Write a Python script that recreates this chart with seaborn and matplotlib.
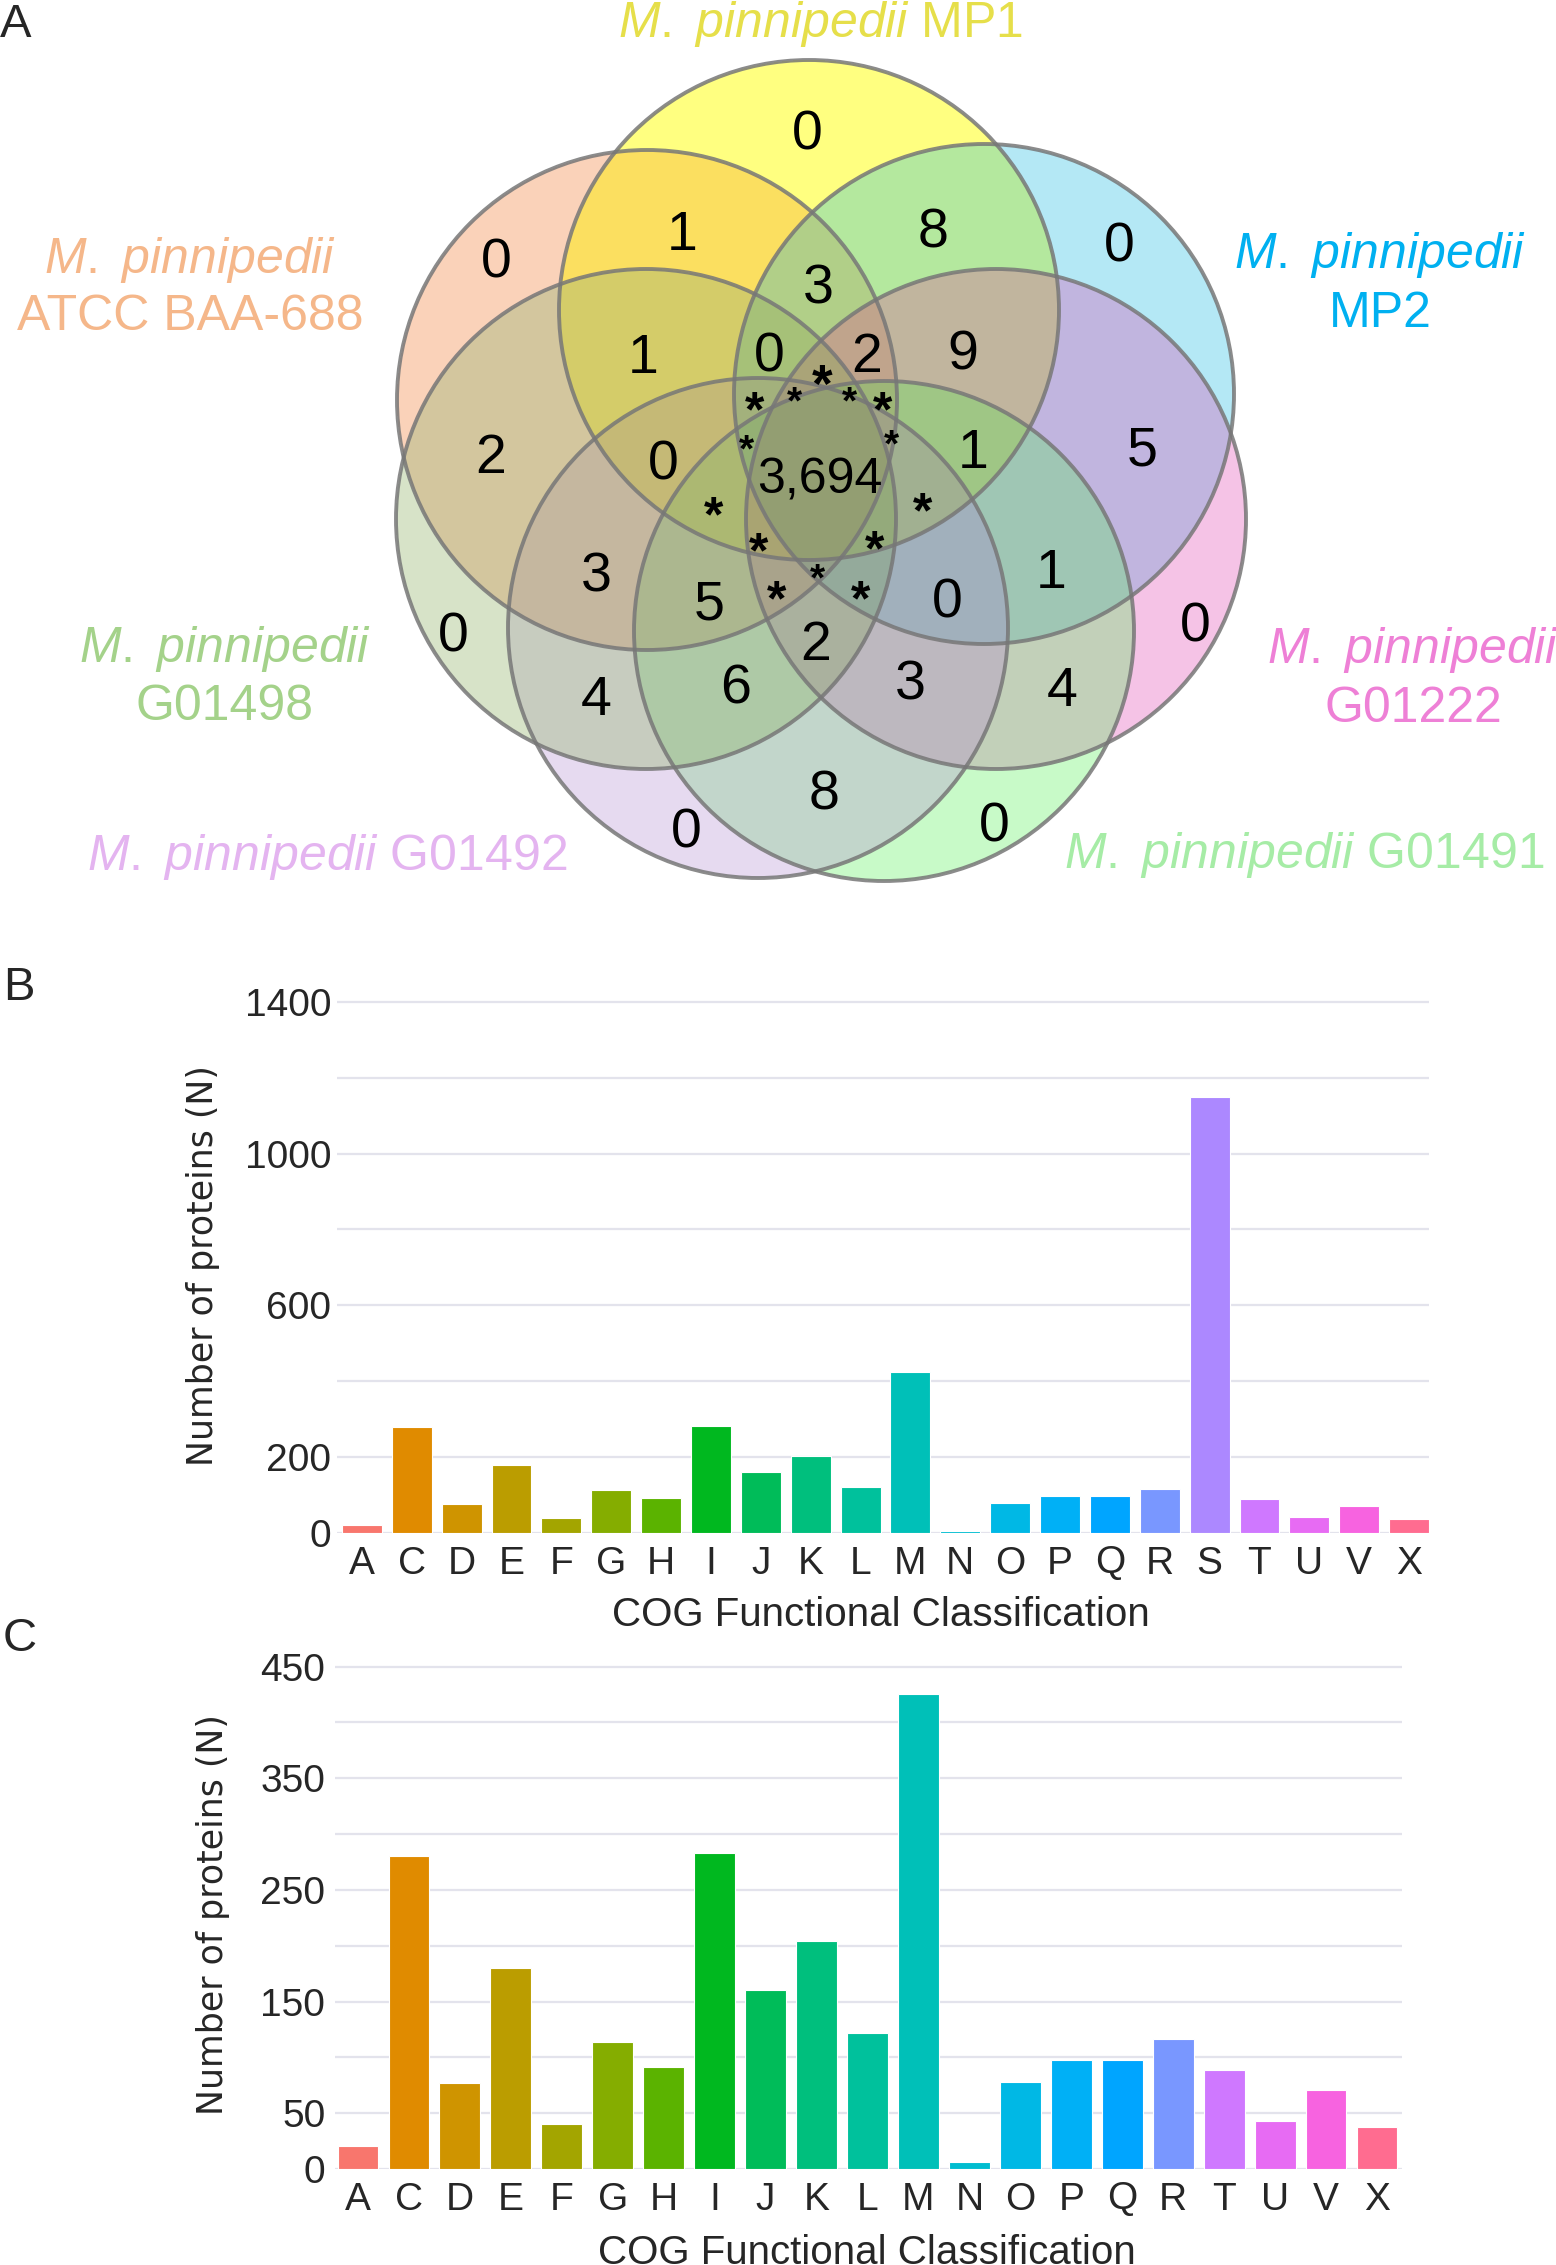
import numpy as np
import pandas as pd
import matplotlib
matplotlib.use("Agg")
import matplotlib.pyplot as plt
from matplotlib.patches import Circle
import seaborn as sns

W, H = 1556, 2265

# ---------------- data ----------------
set_labels = ["ATCC BAA-688", "MP1", "MP2", "G01222", "G01491", "G01492", "G01498"]

# counts of the venn regions (reading order: top to bottom)
region_counts = [0, 1, 8, 0, 0, 3, 1, 0, 2, 9, 2, 0, 3694, 1, 5,
                 3, 5, 0, 1, 0, 0, 2, 4, 6, 3, 4, 8, 0, 0]

cog_letters = list("ACDEFGHIJKLMNOPQRSTUVX")
cog_counts = [21, 280, 77, 180, 40, 114, 91, 283, 160, 204, 122, 425, 6,
              78, 98, 98, 116, 1150, 89, 43, 71, 38]

# panel C: same classes without S
cog_letters_c = [l for l in cog_letters if l != "S"]
cog_counts_c = [v for l, v in zip(cog_letters, cog_counts) if l != "S"]

# ---------------- layout (pixels) ----------------
R = 250
VH = 900  # height of the venn panel in pixels
circle_centres = {
    "ATCC BAA-688": (647, 400),
    "MP1": (809, 310),
    "MP2": (984, 394),
    "G01222": (996, 519),
    "G01491": (884, 631),
    "G01492": (758, 628),
    "G01498": (646, 519),
}
# colour of each set where it stands alone
circle_fill = {
    "ATCC BAA-688": (250, 210, 185),
    "MP1": (255, 255, 128),
    "MP2": (180, 232, 245),
    "G01222": (245, 195, 230),
    "G01491": (200, 250, 200),
    "G01492": (230, 218, 240),
    "G01498": (215, 228, 200),
}
label_colour = {
    "ATCC BAA-688": "#F5B78A",
    "MP1": "#E6DF4A",
    "MP2": "#00B0F0",
    "G01222": "#EE80D6",
    "G01491": "#A6ECA6",
    "G01492": "#E4B4F0",
    "G01498": "#A4D28A",
}
region_pos = [(807, 129), (682, 230), (933, 227), (1119, 241), (496, 258),
              (818, 284), (643, 353), (769, 352), (867, 352), (963, 350),
              (491, 453), (663, 459), (820, 476), (973, 448), (1142, 445),
              (596, 571), (709, 600), (947, 597), (1051, 568), (453, 631),
              (1195, 622), (816, 640), (596, 695), (736, 683), (910, 680),
              (1062, 686), (824, 789), (686, 827), (994, 821)]
star_pos = [(822, 372, 38), (755, 398, 36), (794, 392, 28), (849, 392, 28),
            (883, 398, 36), (746, 440, 28), (891, 435, 28), (714, 503, 36),
            (923, 499, 36), (759, 539, 36), (875, 537, 36), (777, 587, 36),
            (817, 569, 28), (861, 587, 36)]


def hue_pal(n, l=65, c=100, h0=15, h1=375):
    # ggplot2 style hue palette (polar LUV)
    M = np.array([[3.2404542, -1.5371385, -0.4985314],
                  [-0.9692660, 1.8760108, 0.0415560],
                  [0.0556434, -0.2040259, 1.0572252]])
    un, vn = 0.1978398, 0.4683363
    cols = []
    for h in np.linspace(h0, h1, n + 1)[:-1] % 360:
        hr = np.deg2rad(h)
        u, v = c * np.cos(hr), c * np.sin(hr)
        Y = ((l + 16) / 116) ** 3
        up = u / (13 * l) + un
        vp = v / (13 * l) + vn
        X = Y * 9 * up / (4 * vp)
        Z = Y * (12 - 3 * up - 20 * vp) / (4 * vp)
        lin = np.clip(M @ np.array([X, Y, Z]), 0, None)
        rgb = np.where(lin <= 0.0031308, 12.92 * lin, 1.055 * lin ** (1 / 2.4) - 0.055)
        cols.append(tuple(np.clip(rgb, 0, 1)))
    return cols


# colour wheel of 25 steps: A..W in order, X on the last step
hues = hue_pal(25)
pal = {l: hues[i] for i, l in enumerate("ABCDEFGHIJKLMNOPQRSTUVW")}
pal["X"] = hues[24]

sns.set_theme(style="white")
plt.rcParams["font.family"] = ["Liberation Sans", "DejaVu Sans"]
plt.rcParams["mathtext.fontset"] = "custom"
plt.rcParams["mathtext.rm"] = "Liberation Sans"
plt.rcParams["mathtext.it"] = "Liberation Sans:italic"

fig = plt.figure(figsize=(W / 100, H / 100), dpi=100)


def fx(x):
    return x / W


def fy(y):
    return 1 - y / H


def px_axes(left, top, right, bottom):
    return fig.add_axes([fx(left), fy(bottom), (right - left) / W, (bottom - top) / H])


# ---------------- panel A: venn ----------------
ax_v = px_axes(0, 0, W, VH)

# overlap shading: half normal transparency, half multiply blend
a = 0.6
xx, yy = np.meshgrid(np.arange(W) + 0.5, np.arange(VH) + 0.5)
over = np.ones((VH, W, 3))
mult = np.ones((VH, W, 3))
inside = np.zeros((VH, W), bool)
for name in set_labels:
    cx, cy = circle_centres[name]
    m = (xx - cx) ** 2 + (yy - cy) ** 2 <= R ** 2
    pure = np.array(circle_fill[name]) / 255
    over[m] = (1 - a) * over[m] + a * (pure - (1 - a)) / a
    mult[m] *= pure
    inside |= m
shade = np.clip(0.5 * over + 0.5 * mult, 0, 1)
ax_v.imshow(np.dstack([shade, inside.astype(float)]), extent=(0, W, VH, 0),
            interpolation="nearest", zorder=0)

for name in set_labels:
    ax_v.add_patch(Circle(circle_centres[name], R, facecolor="none",
                          edgecolor="#777777", linewidth=2.8, alpha=0.85, zorder=2))
ax_v.set_xlim(0, W)
ax_v.set_ylim(VH, 0)
ax_v.axis("off")

for n, (x, y) in zip(region_counts, region_pos):
    size = 36 if n > 1000 else 40
    ax_v.text(x, y, f"{n:,}", fontsize=size, ha="center", va="center_baseline",
              color="black", zorder=3)
for x, y, s in star_pos:
    em = s * 100 / 72
    ax_v.text(x, y + 0.2 * em, "*", fontsize=s, fontweight="bold", ha="center",
              va="center_baseline", color="black", zorder=3)

lab_kw = dict(fontsize=36, ha="center", va="baseline")
ax_v.text(821, 37, r"$\mathit{M.\ pinnipedii}$ MP1", color=label_colour["MP1"], **lab_kw)
ax_v.text(190, 273, r"$\mathit{M.\ pinnipedii}$", color=label_colour["ATCC BAA-688"], **lab_kw)
ax_v.text(190, 330, "ATCC BAA-688", color=label_colour["ATCC BAA-688"], **lab_kw)
ax_v.text(1380, 268, r"$\mathit{M.\ pinnipedii}$", color=label_colour["MP2"], **lab_kw)
ax_v.text(1380, 327, "MP2", color=label_colour["MP2"], **lab_kw)
ax_v.text(225, 662, r"$\mathit{M.\ pinnipedii}$", color=label_colour["G01498"], **lab_kw)
ax_v.text(225, 720, "G01498", color=label_colour["G01498"], **lab_kw)
ax_v.text(1413, 663, r"$\mathit{M.\ pinnipedii}$", color=label_colour["G01222"], **lab_kw)
ax_v.text(1413, 722, "G01222", color=label_colour["G01222"], **lab_kw)
ax_v.text(327, 870, r"$\mathit{M.\ pinnipedii}$ G01492", color=label_colour["G01492"], **lab_kw)
ax_v.text(1304, 868, r"$\mathit{M.\ pinnipedii}$ G01491", color=label_colour["G01491"], **lab_kw)

# ---------------- bar panels ----------------
def cog_panel(ax, letters, counts, ymax, ticks, labelled, xlim, ypad):
    df = pd.DataFrame({"cog": letters, "n": counts})
    sns.barplot(data=df, x="cog", y="n", hue="cog", palette=pal, order=letters,
                hue_order=letters, legend=False, width=0.8, edgecolor="white",
                linewidth=0.8, saturation=1, ax=ax)
    ax.set_xlim(*xlim)
    ax.set_ylim(0, ymax)
    ax.set_yticks(ticks)
    ax.set_yticklabels([str(t) if t in labelled else "" for t in ticks])
    ax.yaxis.grid(True, color="#E3E3EC", linewidth=1.6)
    ax.xaxis.grid(False)
    ax.set_axisbelow(True)
    sns.despine(ax=ax, left=True, bottom=True)
    ax.tick_params(axis="both", length=0, labelsize=28)
    ax.tick_params(axis="x", pad=9)
    ax.tick_params(axis="y", pad=ypad)
    ax.set_xlabel("")
    ax.set_ylabel("Number of proteins (N)", fontsize=25, family="DejaVu Sans")


ax_b = px_axes(337, 998, 1429, 1533)
cog_panel(ax_b, cog_letters, cog_counts, 1410, list(range(0, 1401, 200)),
          [0, 200, 600, 1000, 1400], (-0.5, 21.4), 4)
ax_b.yaxis.set_label_coords((203 - 337) / 1092, 0.5)

ax_c = px_axes(335, 1661, 1402, 2169)
cog_panel(ax_c, cog_letters_c, cog_counts_c, 455, list(range(0, 451, 50)),
          [0, 50, 150, 250, 350, 450], (-0.45, 20.49), 7)
ax_c.yaxis.set_label_coords((213 - 335) / 1067, 0.5)

for ax in (ax_b, ax_c):
    ax.yaxis.label.set_va("center")

fig.text(fx(881), fy(1626), "COG Functional Classification", fontsize=29,
         ha="center", va="baseline")
fig.text(fx(867), fy(2264), "COG Functional Classification", fontsize=29,
         ha="center", va="baseline")

# panel letters
fig.text(fx(0), fy(37), "A", fontsize=34, ha="left", va="baseline")
fig.text(fx(3), fy(1000), "B", fontsize=34, ha="left", va="baseline")
fig.text(fx(3), fy(1651), "C", fontsize=34, ha="left", va="baseline")

fig.savefig("out.png", dpi=100)
